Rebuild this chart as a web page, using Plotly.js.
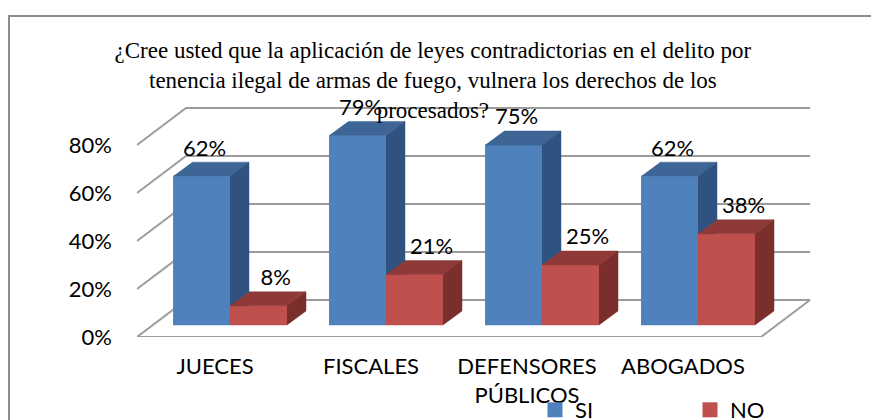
<!DOCTYPE html>
<html>
<head>
<meta charset="utf-8">
<script src="https://cdn.plot.ly/plotly-3.0.1.min.js"></script>
<style>
  html, body { margin: 0; padding: 0; background: #fff; }
  #chart { width: 871px; height: 420px; }
</style>
</head>
<body>
<div id="chart"></div>
<script>
// Chart data
const categories = ["JUECES", "FISCALES", "DEFENSORES<br>PÚBLICOS", "ABOGADOS"];
const siValues = [62, 79, 75, 62];
const noValues = [8, 21, 25, 38];
const yTicks = [0, 20, 40, 60, 80];
const yTickText = ["0%", "20%", "40%", "60%", "80%"];
const seriesNames = ["SI", "NO"];

// Fake 3D geometry (in axis units)
const pxPerCat = 156, pxPerPct = 2.4;
const backDx = 49 / pxPerCat, backDy = 37 / pxPerPct;   // back wall offset
const barW = 0.365, barBase = 5;                         // bars stand a bit behind the front edge
const depthDx = 19 / pxPerCat, depthDy = 14 / pxPerPct;  // bar depth
const siShift = -0.0865, noShift = 0.279;

const font = "Lato, 'Open Sans', sans-serif";

// build front / top / side polygons for one series
function boxFaces(values, shift) {
    let front = { x: [], y: [] }, top = { x: [], y: [] }, side = { x: [], y: [] };
    values.forEach((v, i) => {
        let x0 = i + shift - barW / 2, x1 = x0 + barW;
        let y0 = barBase, y1 = barBase + v;
        front.x.push(x0, x1, x1, x0, null);
        front.y.push(y0, y0, y1, y1, null);
        top.x.push(x0, x1, x1 + depthDx, x0 + depthDx, null);
        top.y.push(y1, y1, y1 + depthDy, y1 + depthDy, null);
        side.x.push(x1, x1 + depthDx, x1 + depthDx, x1, null);
        side.y.push(y0, y0 + depthDy, y1 + depthDy, y1, null);
    });
    return { front, top, side };
}

function poly(p, color) {
    return {
        x: p.x, y: p.y, mode: "lines", fill: "toself", fillcolor: color,
        line: { color: color, width: 0.5 }, hoverinfo: "skip", showlegend: false
    };
}

// gridlines: back wall, left wall diagonals, floor
let grid = { x: [], y: [] };
yTicks.forEach(v => {
    grid.x.push(-0.5, -0.5 + backDx, 3.5 + backDx, null);
    grid.y.push(v, v + backDy, v + backDy, null);
});
grid.x.push(-0.5, 3.5, 3.5 + backDx, null);
grid.y.push(0, 0, backDy, null);

let gridTrace = {
    x: grid.x, y: grid.y, mode: "lines",
    line: { color: "#9c9c9c", width: 2 }, hoverinfo: "skip", showlegend: false
};

let si = boxFaces(siValues, siShift);
let no = boxFaces(noValues, noShift);

function labels(values, shift, dx) {
    return {
        x: values.map((v, i) => i + shift + dx),
        y: values.map(v => barBase + v + depthDy + 0.5),
        text: values.map(v => v + "%"),
        mode: "text", textposition: "top center", cliponaxis: false,
        textfont: { family: font, size: 22, color: "#000" },
        hoverinfo: "skip", showlegend: false
    };
}

function legendEntry(name, color) {
    return {
        x: [null], y: [null], mode: "markers", name: name,
        marker: { symbol: "square", size: 15, color: color }
    };
}

let data = [
    gridTrace,
    poly(si.front, "#4F81BD"), poly(si.top, "#3D6595"), poly(si.side, "#2F5281"),
    poly(no.front, "#C0504D"), poly(no.top, "#8F3A38"), poly(no.side, "#7A2F2D"),
    labels(siValues, siShift, 0.02),
    labels(noValues, noShift, 0.11),
    legendEntry(seriesNames[0], "#4F81BD"),
    legendEntry(seriesNames[1], "#C0504D")
];

const plotW = 871 - 137 - 9, plotH = 420 - 20 - 83;

let layout = {
    width: 871,
    height: 420,
    margin: { l: 137, r: 9, t: 20, b: 83, autoexpand: false },
    paper_bgcolor: "#fff",
    plot_bgcolor: "rgba(0,0,0,0)",
    font: { family: font, size: 22, color: "#000" },
    title: {
        text: "¿Cree usted que la aplicación de leyes contradictorias en el delito por<br>tenencia ilegal de armas de fuego, vulnera los derechos de los<br>procesados?",
        font: { family: "'Liberation Serif', 'Times New Roman', serif", size: 23, color: "#000" },
        xref: "container", x: 0.497, xanchor: "center",
        yref: "container", y: 1 - 58 / 420, yanchor: "top"
    },
    xaxis: {
        range: [-0.5, -0.5 + plotW / pxPerCat],
        tickvals: [0, 1, 2, 3],
        ticktext: categories,
        tickangle: 0,
        automargin: false,
        ticks: "", showgrid: false, zeroline: false, showline: false,
        ticklabelstandoff: 14,
        fixedrange: true
    },
    yaxis: {
        range: [0, plotH / pxPerPct],
        tickvals: yTicks,
        ticktext: yTickText,
        automargin: false,
        ticks: "", showgrid: false, zeroline: false, showline: false,
        ticklabelstandoff: 24,
        fixedrange: true
    },
    showlegend: true,
    legend: {
        orientation: "h",
        x: (535 - 137) / plotW, xanchor: "left",
        y: (337 - 410) / plotH, yanchor: "middle",
        entrywidth: 110, entrywidthmode: "pixels",
        font: { family: font, size: 22, color: "#000" },
        bgcolor: "rgba(0,0,0,0)"
    },
    shapes: [{
        type: "rect", xref: "paper", yref: "paper", layer: "below",
        x0: (9 - 137) / plotW, x1: (885 - 137) / plotW,
        y0: (337 - 440) / plotH, y1: (337 - 16) / plotH,
        line: { color: "#8c8c8c", width: 2 }
    }]
};

Plotly.newPlot("chart", data, layout, { displayModeBar: false, staticPlot: true });
</script>
</body>
</html>
